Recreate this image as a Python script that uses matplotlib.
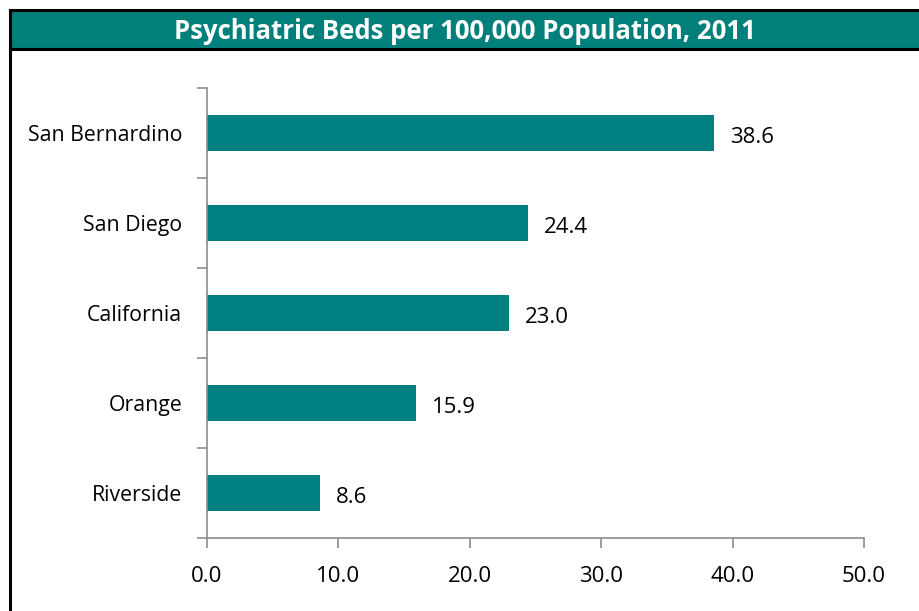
import matplotlib.pyplot as plt
from matplotlib.patches import Rectangle
from matplotlib.lines import Line2D

# data (top to bottom as shown)
counties = ["San Bernardino", "San Diego", "California", "Orange", "Riverside"]
beds = [38.6, 24.4, 23.0, 15.9, 8.6]
xticks = [0, 10, 20, 30, 40, 50]

teal = "#008080"
grey = "#8c8c8c"
plt.rcParams['font.family'] = ['Open Sans', 'DejaVu Sans']

fig = plt.figure(figsize=(9.19, 6.11), dpi=100)

# title bar with black border
W, H = 919, 611
bar_y0 = 1 - 49 / H
bar_y1 = 1 - 10 / H
x0 = 10 / W
fig.patches.append(Rectangle((x0, bar_y0), 1 - x0, bar_y1 - bar_y0, transform=fig.transFigure,
                             facecolor="#007f7b", edgecolor="none", zorder=0))
fig.lines.append(Line2D([x0, 1], [bar_y1, bar_y1], transform=fig.transFigure, color="black", lw=2.2))
fig.lines.append(Line2D([x0, 1], [bar_y0, bar_y0], transform=fig.transFigure, color="black", lw=2.2))
fig.lines.append(Line2D([x0, x0], [0, bar_y1], transform=fig.transFigure, color="black", lw=2.2))
fig.text(0.5 + x0 / 2, (bar_y0 + bar_y1) / 2 - 0.003, "Psychiatric Beds per 100,000 Population, 2011",
         color="white", fontsize=18.5, fontweight="bold", ha="center", va="center")

ax = fig.add_axes([207 / W, 1 - 538 / H, (864 - 207) / W, (538 - 88) / H])
ypos = list(range(len(counties)))[::-1]
ax.barh(ypos, beds, height=0.4, color=teal, zorder=2)
for y, v in zip(ypos, beds):
    ax.text(v + 1.2, y - 0.05, f"{v:.1f}", va="center", ha="left", fontsize=16)

ax.set_xlim(0, 50)
ax.set_ylim(-0.5, len(counties) - 0.5)
ax.set_xticks(xticks)
ax.set_xticklabels([f"{t:.1f}" for t in xticks], fontsize=16)
ax.set_yticks(ypos)
ax.set_yticklabels(counties, fontsize=15.3)
# category boundary ticks
ax.set_yticks([i - 0.5 for i in range(len(counties) + 1)], minor=True)
ax.tick_params(axis="y", which="major", length=0, pad=18)
ax.tick_params(axis="y", which="minor", length=7, color=grey, width=1.2)
ax.tick_params(axis="x", length=7, color=grey, width=1.2, pad=13)
for s in ["top", "right"]:
    ax.spines[s].set_visible(False)
for s in ["left", "bottom"]:
    ax.spines[s].set_color(grey)
    ax.spines[s].set_linewidth(1.2)

fig.savefig("out.png", dpi=100)
